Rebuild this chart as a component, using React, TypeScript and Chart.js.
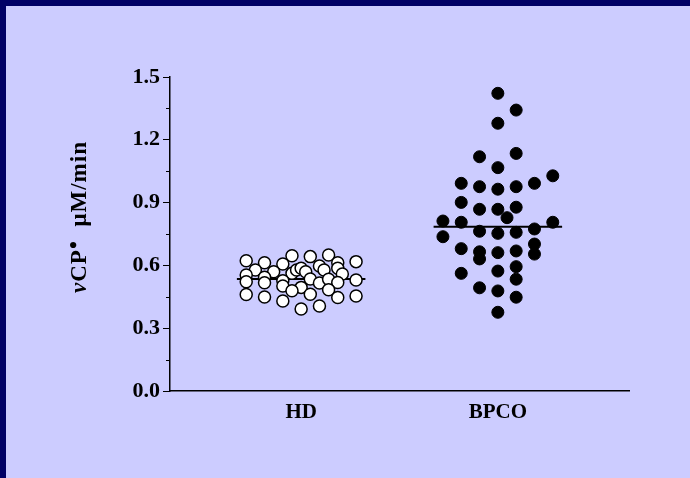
import { useEffect, useRef } from 'react';
import { Chart, registerables } from 'chart.js';

Chart.register(...registerables);

const categories = ['HD', 'BPCO'];
const categoryPositions = [1, 2.5];

const hdValues = [
  0.622, 0.613, 0.607, 0.646, 0.642, 0.650, 0.613, 0.618,
  0.578, 0.570, 0.562, 0.578, 0.586, 0.570, 0.597, 0.578, 0.586, 0.559,
  0.554, 0.522, 0.543, 0.517, 0.527, 0.502, 0.495, 0.535, 0.516, 0.534, 0.518, 0.530,
  0.461, 0.449, 0.430, 0.479, 0.462, 0.484, 0.447, 0.454, 0.392, 0.406,
];
const hdSlots = [
  -6, -4, -2, -1, 1, 3, 4, 6,
  -5, -3, -1, -0.5, 0, 0.5, 2, 2.5, 4, 4.5,
  -6, -6, -4, -4, -2, -2, 0, 1, 2, 3, 4, 6,
  -6, -4, -2, -1, 1, 3, 4, 6, 0, 2,
];

const bpcoValues = [
  1.422, 1.342, 1.279, 1.119, 1.135, 1.067, 1.028,
  0.992, 0.976, 0.964, 0.976, 0.992,
  0.901, 0.868, 0.868, 0.878, 0.828,
  0.812, 0.806, 0.806, 0.774, 0.763, 0.753, 0.758, 0.737,
  0.702, 0.654, 0.680, 0.665, 0.631, 0.661, 0.669,
  0.594, 0.534, 0.562, 0.573, 0.493, 0.478, 0.448, 0.376,
];
const bpcoSlots = [
  0, 2, 0, -2, 2, 0, 6,
  -4, -2, 0, 2, 4,
  -4, -2, 0, 2, 1,
  -6, -4, 6, 4, -2, 0, 2, -6,
  4, 4, -4, -2, -2, 0, 2,
  2, 2, -4, 0, -2, 0, 2, 0,
];

const means = [0.535, 0.785];
const yMajorStep = 0.3;
const yMinorTicks = [0.15, 0.45, 0.75, 1.05, 1.35];

const SLOT = 0.0698;
const MEAN_HALF = 0.49;
const FONT = '"Liberation Serif", "Times New Roman", serif';

const minorTickPlugin = {
  id: 'minorTicks',
  afterDraw(chart: any) {
    const { ctx } = chart;
    const y = chart.scales.y;
    const left = chart.chartArea.left;
    ctx.save();
    ctx.strokeStyle = '#000';
    ctx.lineWidth = 1;
    yMinorTicks.forEach((v) => {
      const py = Math.round(y.getPixelForValue(v)) + 0.5;
      ctx.beginPath();
      ctx.moveTo(left - 4, py);
      ctx.lineTo(left, py);
      ctx.stroke();
    });
    ctx.restore();
  },
};

const yTitlePlugin = {
  id: 'yTitle',
  afterDraw(chart: any) {
    const { ctx, chartArea } = chart;
    ctx.save();
    ctx.translate(chartArea.left - 90, 211);
    ctx.rotate(-Math.PI / 2);
    ctx.fillStyle = '#000';
    ctx.textBaseline = 'middle';
    ctx.textAlign = 'left';
    try { (ctx as any).letterSpacing = '1px'; } catch (e) { /* ignore */ }
    const parts = [
      { t: 'v', f: `italic bold 23px ${FONT}`, dy: 0 },
      { t: 'CP', f: `bold 23px ${FONT}`, dy: 0 },
      { t: '•', f: `bold 23px ${FONT}`, dy: -5 },
      { t: '  μM/min', f: `bold 23px ${FONT}`, dy: 0 },
    ];
    let total = 0;
    parts.forEach((p) => {
      ctx.font = p.f;
      total += ctx.measureText(p.t).width;
    });
    let x = -total / 2;
    parts.forEach((p) => {
      ctx.font = p.f;
      ctx.fillText(p.t, x, p.dy);
      x += ctx.measureText(p.t).width;
    });
    ctx.restore();
  },
};

export default function App() {
  const ref = useRef<HTMLCanvasElement>(null);

  useEffect(() => {
    document.body.style.margin = '0';
    const canvas = ref.current;
    if (!canvas) return;

    const toPoints = (vals: number[], slots: number[], center: number) =>
      vals.map((v, i) => ({ x: center + slots[i] * SLOT, y: v }));

    const meanLine = (idx: number) => [
      { x: categoryPositions[idx] - MEAN_HALF, y: means[idx] },
      { x: categoryPositions[idx] + MEAN_HALF, y: means[idx] },
    ];

    const chart = new Chart(canvas, {
      type: 'scatter',
      data: {
        datasets: [
          {
            label: categories[0],
            data: toPoints(hdValues, hdSlots, categoryPositions[0]),
            backgroundColor: '#ffffff',
            borderColor: '#000000',
            borderWidth: 1.5,
            pointRadius: 6,
            order: 0,
          },
          {
            label: categories[1],
            data: toPoints(bpcoValues, bpcoSlots, categoryPositions[1]),
            backgroundColor: '#000000',
            borderColor: '#000000',
            borderWidth: 1,
            pointRadius: 6,
            order: 0,
          },
          {
            type: 'line',
            label: 'mean HD',
            data: meanLine(0),
            borderColor: '#000000',
            borderWidth: 2,
            pointRadius: 0,
            showLine: true,
            order: 1,
          } as any,
          {
            type: 'line',
            label: 'mean BPCO',
            data: meanLine(1),
            borderColor: '#000000',
            borderWidth: 2,
            pointRadius: 0,
            showLine: true,
            order: 1,
          } as any,
        ],
      },
      options: {
        responsive: false,
        animation: false,
        devicePixelRatio: 1,
        layout: { padding: { left: 0, top: 71, right: 61, bottom: 0 } },
        plugins: {
          legend: { display: false },
          tooltip: { enabled: false },
        },
        scales: {
          x: {
            type: 'linear',
            min: 0,
            max: 3.5,
            afterBuildTicks: (scale: any) => {
              scale.ticks = categoryPositions.map((v) => ({ value: v }));
            },
            afterFit: (scale: any) => {
              scale.height = 87;
            },
            ticks: {
              autoSkip: false,
              maxRotation: 0,
              padding: 9,
              color: '#000',
              font: { family: FONT, size: 21, weight: 'bold' },
              callback: (v: any) => {
                const i = categoryPositions.indexOf(Number(v));
                return i >= 0 ? categories[i] : '';
              },
            },
            grid: { display: false, drawTicks: false },
            border: { display: true, color: '#000', width: 1.5 },
          },
          y: {
            type: 'linear',
            min: 0,
            max: 1.5,
            afterFit: (scale: any) => {
              scale.width = 164;
            },
            ticks: {
              stepSize: yMajorStep,
              padding: 3,
              color: '#000',
              font: { family: FONT, size: 22, weight: 'bold' },
              callback: (v: any) => Number(v).toFixed(1),
            },
            grid: {
              display: true,
              drawOnChartArea: false,
              drawTicks: true,
              tickLength: 7,
              color: '#000',
              lineWidth: 1,
            },
            border: { display: true, color: '#000', width: 1.5 },
          },
        },
      },
      plugins: [minorTickPlugin, yTitlePlugin],
    } as any);

    return () => chart.destroy();
  }, []);

  return (
    <div
      style={{
        width: 690,
        height: 478,
        boxSizing: 'border-box',
        borderTop: '6px solid #000066',
        borderLeft: '6px solid #000066',
        background: '#CCCCFF',
      }}
    >
      <canvas ref={ref} width={684} height={472} style={{ display: 'block' }} />
    </div>
  );
}
